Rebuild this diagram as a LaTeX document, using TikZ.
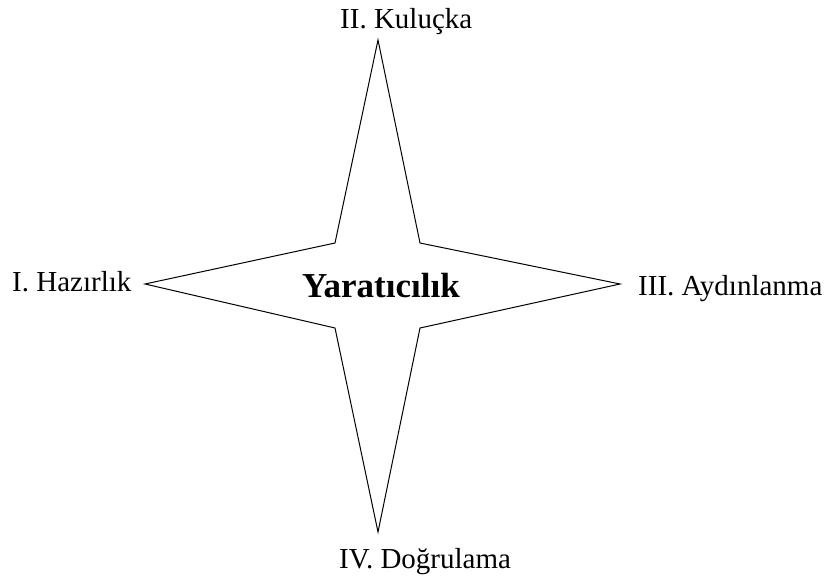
\documentclass[tikz,border=0pt]{standalone}
\usepackage{fontspec}
\setmainfont{Liberation Serif}
\begin{document}
\begin{tikzpicture}[x=1pt,y=-1pt,
  lbl/.style={inner sep=0pt,anchor=base west,font=\fontsize{29}{33}\selectfont},
  ttl/.style={inner sep=0pt,anchor=base west,font=\fontsize{35}{40}\selectfont\bfseries},
  star/.style={draw=black,line width=1pt,line join=miter}]
\useasboundingbox[fill=white] (0,0) rectangle (832,581);
\coordinate (T) at (378,40);
\coordinate (UR) at (420,243);
\coordinate (R) at (620,284);
\coordinate (LR) at (420,328);
\coordinate (B) at (378,532);
\coordinate (LL) at (335,328);
\coordinate (L) at (145,284);
\coordinate (UL) at (335,243);
\draw[star] (T) -- (UR) -- (R) -- (LR) -- (B) -- (LL) -- (L) -- (UL) -- cycle;
\node[lbl] (hazirlik) at (12,291) {I. Hazırlık};
\node[lbl] (kulucka) at (340,28) {II. Kuluçka};
\node[lbl] (aydinlanma) at (638,295) {III. Aydınlanma};
\node[lbl] (dogrulama) at (339,568) {IV. Doğrulama};
\node[ttl] (yaraticilik) at (302,297) {Yaratıcılık};
\end{tikzpicture}
\end{document}
